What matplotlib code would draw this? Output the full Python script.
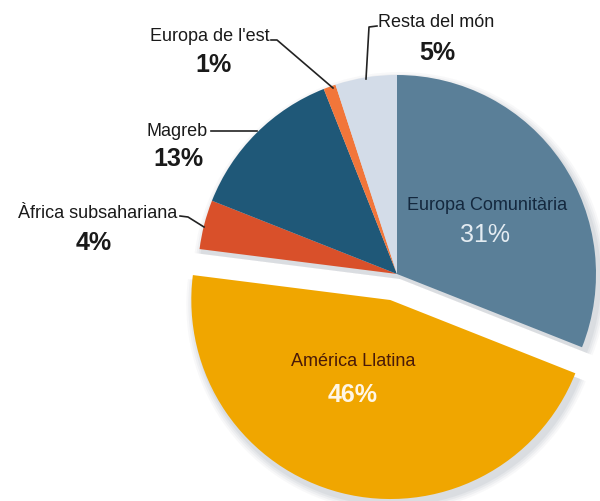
import matplotlib
matplotlib.use('Agg')
import matplotlib.pyplot as plt

# Data
labels = ['Europa Comunitària', 'América Llatina', 'Àfrica subsahariana',
          'Magreb', "Europa de l'est", 'Resta del món']
shares = [31, 46, 4, 13, 1, 5]
colors = ['#5a7f98', '#f0a600', '#d9502a', '#1f5878', '#f2763a', '#d3dce8']

W, H = 600, 502
FONT = ['Liberation Sans Narrow', 'Liberation Sans', 'DejaVu Sans']

fig = plt.figure(figsize=(W / 100, H / 100), dpi=100)
ax = fig.add_axes([0, 0, 1, 1])

cx, cy, r = 397, H - 275, 199
# pie offsets are in data units, so scale with the radius
explode = [0, 0.135 * r, 0, 0, 0, 0]

# soft shadow: a few faint enlarged copies of the pie behind it
for i, a in enumerate([0.04, 0.05, 0.06, 0.07]):
  grow = 8 - 2 * i
  ax.pie(shares, explode=explode, colors=['#556070'] * len(shares),
         startangle=90, counterclock=False, center=(cx + 3, cy - 5),
         radius=r + grow, frame=True,
         wedgeprops=dict(linewidth=0, alpha=a))

wedges, _ = ax.pie(shares, explode=explode, colors=colors,
                   startangle=90, counterclock=False, center=(cx, cy),
                   radius=r, frame=True, wedgeprops=dict(linewidth=0))

ax.set_xlim(0, W)
ax.set_ylim(0, H)
ax.set_aspect('equal')
ax.axis('off')

def px(x, y):
  return x, H - y

# Inside labels
ax.text(*px(487, 205), labels[0], ha='center', va='center',
        fontsize=13, color='#14283e', family=FONT)
ax.text(*px(485, 235), f'{shares[0]}%', ha='center', va='center',
        fontsize=18, color='#e4ecf2', family=FONT)
ax.text(*px(353, 362), labels[1], ha='center', va='center',
        fontsize=13, color='#4a1a08', family=FONT)
ax.text(*px(353, 395), f'{shares[1]}%', ha='center', va='center',
        fontsize=18, color='#fff6e6', fontweight='bold', family=FONT)

# Outside labels: (name anchor, align, pct centre, leader line points)
outside = {
  2: ((177, 218), 'right', (94, 243), [(180, 217), (188, 218), (204, 228)]),
  3: ((208, 136), 'right', (178, 159), [(211, 132), (257, 132)]),
  4: ((270, 41), 'right', (213, 65), [(271, 41), (277, 41), (333, 89)]),
  5: ((378, 27), 'left', (437, 53), [(377, 27), (369, 28), (366, 80)]),
}
for i, (name_xy, align, pct_xy, line) in outside.items():
  ax.text(*px(*name_xy), labels[i], ha=align, va='baseline',
          fontsize=13, color='#1a1a1a', family=FONT)
  ax.text(*px(*pct_xy), f'{shares[i]}%', ha='center', va='center',
          fontsize=18, color='#1a1a1a', fontweight='bold', family=FONT)
  xs = [p[0] for p in line]
  ys = [H - p[1] for p in line]
  ax.plot(xs, ys, color='#222222', linewidth=1.2)

fig.savefig('out.png', dpi=100, facecolor='white')
